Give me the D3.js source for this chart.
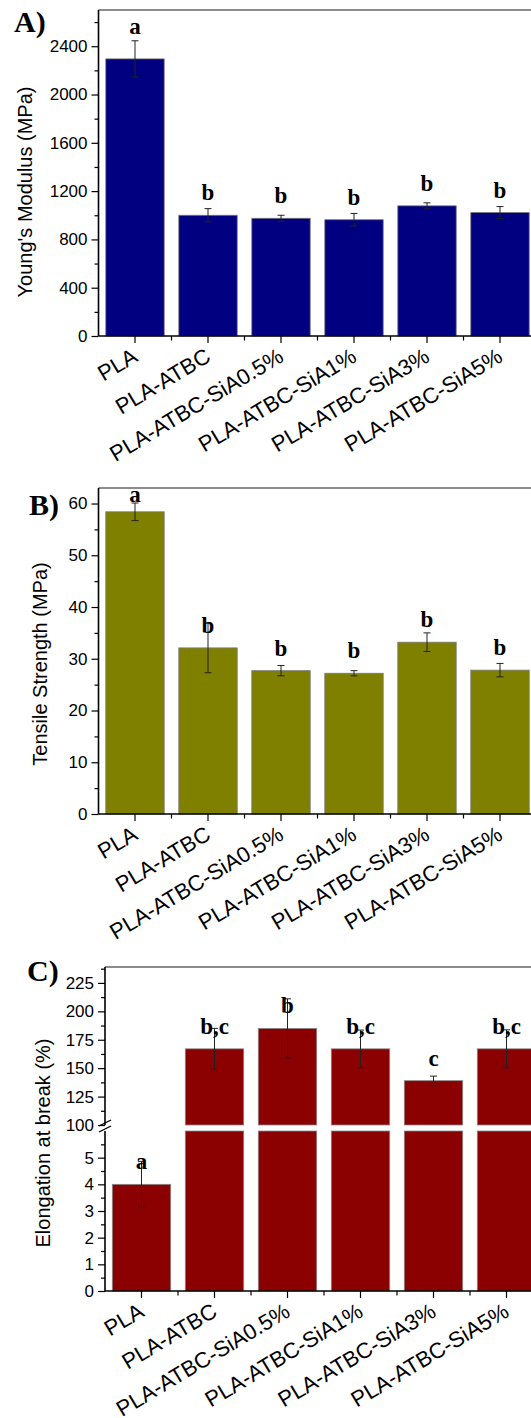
<!DOCTYPE html>
<html>
<head>
<meta charset="utf-8">
<script src="https://cdn.jsdelivr.net/npm/d3@7"></script>
<style>
  body { margin: 0; background: #fff; }
  svg { display: block; }
</style>
</head>
<body>
<script>
// data
var categories = ['PLA', 'PLA-ATBC', 'PLA-ATBC-SiA0.5%', 'PLA-ATBC-SiA1%', 'PLA-ATBC-SiA3%', 'PLA-ATBC-SiA5%'];

var modulus = [2295, 1000, 975, 963, 1078, 1022];
var modulusErr = [150, 55, 25, 52, 25, 50];
var modulusLetters = ['a', 'b', 'b', 'b', 'b', 'b'];
var modulusTicks = [0, 400, 800, 1200, 1600, 2000, 2400];

var strength = [58.4, 32.1, 27.7, 27.2, 33.2, 27.8];
var strengthErr = [1.7, 4.8, 1.0, 0.5, 1.8, 1.3];
var strengthLetters = ['a', 'b', 'b', 'b', 'b', 'b'];
var strengthTicks = [0, 10, 20, 30, 40, 50, 60];

var elongation = [4.0, 167, 185, 167, 139, 167];
var elongationErr = [0.86, 18, 26, 16.5, 4, 16.7];
var elongationLetters = ['a', 'b,c', 'b', 'b,c', 'c', 'b,c'];
var elongLowTicks = [0, 1, 2, 3, 4, 5];
var elongHighTicks = [100, 125, 150, 175, 200, 225];

var W = 531, H = 1418;
var sans = "'Liberation Sans', Arial, sans-serif";
var serif = "'Liberation Serif', 'Times New Roman', serif";

var svg = d3.select('body').append('svg')
    .attr('width', W)
    .attr('height', H);

// y axis with majors + minors (minor ticks halfway between majors)
function drawYAxis(g, y, ticks, minorStep, left, fmt) {
  var dom = y.domain();
  var minors = d3.range(dom[0] + minorStep, dom[1] + 1e-9, minorStep * 2);
  g.append('g')
      .attr('transform', 'translate(' + left + ',0)')
      .call(d3.axisLeft(y).tickValues(minors).tickSize(4).tickFormat(''))
      .call(function (s) { s.select('.domain').remove(); })
      .selectAll('line').attr('stroke', '#000').attr('stroke-width', 1.2);
  var ax = g.append('g')
      .attr('transform', 'translate(' + left + ',0)')
      .call(d3.axisLeft(y).tickValues(ticks).tickSize(7).tickPadding(4).tickFormat(fmt || d3.format('d')));
  ax.select('.domain').remove();
  ax.selectAll('line').attr('stroke', '#000').attr('stroke-width', 1.2);
  ax.selectAll('text')
      .attr('font-family', sans)
      .attr('font-size', '17px')
      .attr('fill', '#000');
  g.append('line')
      .attr('x1', left).attr('x2', left)
      .attr('y1', y.range()[0]).attr('y2', y.range()[1])
      .attr('stroke', '#000').attr('stroke-width', 1.6);
}

function drawXAxis(g, x, base) {
  var ax = g.append('g')
      .attr('transform', 'translate(0,' + base + ')')
      .call(d3.axisBottom(x).tickSize(7));
  ax.select('.domain').remove();
  ax.selectAll('line').attr('stroke', '#000').attr('stroke-width', 1.2);
  ax.selectAll('text')
      .attr('x', 0).attr('y', 0)
      .attr('dy', '0.71em')
      .attr('transform', 'translate(-4,11) rotate(-31)')
      .style('text-anchor', 'end')
      .attr('font-family', sans)
      .attr('font-size', '22px')
      .attr('fill', '#000');
  // minor ticks on the band edges
  var r = x.range();
  g.selectAll(null)
      .data(d3.range(1, categories.length + 1))
      .enter().append('line')
      .attr('x1', function (i) { return r[0] + x.step() * i; })
      .attr('x2', function (i) { return r[0] + x.step() * i; })
      .attr('y1', base).attr('y2', base + 4.5)
      .attr('stroke', '#000').attr('stroke-width', 1.2);
  g.append('line')
      .attr('x1', r[0]).attr('x2', W)
      .attr('y1', base).attr('y2', base)
      .attr('stroke', '#000').attr('stroke-width', 1.6);
}

function drawErrors(g, x, y, vals, errs, idx) {
  idx.forEach(function (i) {
    var cx = x(categories[i]) + x.bandwidth() / 2;
    var y1 = y(vals[i] + errs[i]), y2 = y(vals[i] - errs[i]);
    g.append('line').attr('x1', cx).attr('x2', cx).attr('y1', y1).attr('y2', y2)
        .attr('stroke', '#222').attr('stroke-width', 1);
    [y1, y2].forEach(function (yy) {
      g.append('line').attr('x1', cx - 3.5).attr('x2', cx + 3.5).attr('y1', yy).attr('y2', yy)
          .attr('stroke', '#222').attr('stroke-width', 1);
    });
  });
}

function drawLetters(g, x, y, vals, errs, letters, idx, opt) {
  idx.forEach(function (i) {
    var top = y(vals[i]);
    var by = top - 15;
    if (opt.avoidErr) by = Math.min(by, y(vals[i] + errs[i]) - 7);
    by = Math.max(by, opt.frameTop + 14);
    g.append('text')
        .attr('x', x(categories[i]) + x.bandwidth() / 2)
        .attr('y', by)
        .attr('text-anchor', 'middle')
        .attr('font-family', serif)
        .attr('font-weight', 'bold')
        .attr('font-size', '23px')
        .text(letters[i]);
  });
}

function panelText(g, p) {
  g.append('text')
      .attr('x', p.lx).attr('y', p.ly)
      .attr('font-family', serif).attr('font-weight', 'bold')
      .attr('font-size', '30px')
      .text(p.label);
  g.append('text')
      .attr('transform', 'translate(' + p.tx + ',' + p.ty + ') rotate(-90)')
      .attr('text-anchor', 'middle')
      .attr('font-family', sans).attr('font-size', '20px')
      .text(p.title);
}

// simple bar panel (A and B)
function barPanel(p) {
  var g = svg.append('g');
  var x = d3.scaleBand().domain(categories)
      .range([p.left, p.left + 73 * categories.length])
      .paddingInner(0.2).paddingOuter(0.1);
  var y = d3.scaleLinear().domain(p.domain).range([p.bottom, p.top]);

  g.append('line')
      .attr('x1', p.left).attr('x2', W).attr('y1', p.top).attr('y2', p.top)
      .attr('stroke', '#666').attr('stroke-width', 1.6);

  g.selectAll('rect.bar')
      .data(p.values)
      .enter().append('rect')
      .attr('class', 'bar')
      .attr('x', function (d, i) { return x(categories[i]); })
      .attr('width', x.bandwidth())
      .attr('y', function (d) { return y(d); })
      .attr('height', function (d) { return y(0) - y(d); })
      .attr('fill', p.color)
      .attr('stroke', '#777').attr('stroke-width', 0.8);

  var idx = d3.range(categories.length);
  drawErrors(g, x, y, p.values, p.errors, idx);
  drawLetters(g, x, y, p.values, p.errors, p.letters, idx, { avoidErr: p.avoidErr, frameTop: p.top });
  drawYAxis(g, y, p.ticks, p.minor, p.left);
  drawXAxis(g, x, p.bottom);
  panelText(g, p);
}

barPanel({
  values: modulus, errors: modulusErr, letters: modulusLetters, ticks: modulusTicks,
  minor: 200, domain: [0, 2700], top: 10, bottom: 336, left: 98.5,
  color: '#000080', avoidErr: true,
  label: 'A)', lx: 14, ly: 32, title: "Young's Modulus (MPa)", tx: 32, ty: 192
});

barPanel({
  values: strength, errors: strengthErr, letters: strengthLetters, ticks: strengthTicks,
  minor: 5, domain: [0, 63], top: 488, bottom: 814, left: 98.5,
  color: '#808000', avoidErr: false,
  label: 'B)', lx: 29, ly: 515, title: 'Tensile Strength (MPa)', tx: 47, ty: 664
});

// panel C, broken y axis
(function () {
  var g = svg.append('g');
  var left = 105, top = 967, bottom = 1291, brkHi = 1125, brkLo = 1131;
  var x = d3.scaleBand().domain(categories)
      .range([left, left + 73 * categories.length])
      .paddingInner(0.2).paddingOuter(0.1);
  var yLo = d3.scaleLinear().domain([0, 6]).range([bottom, brkLo]);
  var yHi = d3.scaleLinear().domain([100, 239]).range([brkHi, top]);

  g.append('line')
      .attr('x1', left).attr('x2', W).attr('y1', top).attr('y2', top)
      .attr('stroke', '#666').attr('stroke-width', 1.6);

  // lower part of every bar
  g.selectAll('rect.lo')
      .data(elongation)
      .enter().append('rect')
      .attr('class', 'lo')
      .attr('x', function (d, i) { return x(categories[i]); })
      .attr('width', x.bandwidth())
      .attr('y', function (d) { return yLo(Math.min(d, 6)); })
      .attr('height', function (d) { return yLo(0) - yLo(Math.min(d, 6)); })
      .attr('fill', '#8b0000')
      .attr('stroke', '#888').attr('stroke-width', 0.8);

  // upper part for the bars above the break
  var hiIdx = d3.range(categories.length).filter(function (i) { return elongation[i] > 100; });
  g.selectAll('rect.hi')
      .data(hiIdx)
      .enter().append('rect')
      .attr('class', 'hi')
      .attr('x', function (i) { return x(categories[i]); })
      .attr('width', x.bandwidth())
      .attr('y', function (i) { return yHi(elongation[i]); })
      .attr('height', function (i) { return yHi(100) - yHi(elongation[i]); })
      .attr('fill', '#8b0000')
      .attr('stroke', '#888').attr('stroke-width', 0.8);

  var loIdx = d3.range(categories.length).filter(function (i) { return elongation[i] <= 6; });
  drawErrors(g, x, yLo, elongation, elongationErr, loIdx);
  drawErrors(g, x, yHi, elongation, elongationErr, hiIdx);
  drawLetters(g, x, yLo, elongation, elongationErr, elongationLetters, loIdx, { avoidErr: false, frameTop: top });
  drawLetters(g, x, yHi, elongation, elongationErr, elongationLetters, hiIdx, { avoidErr: false, frameTop: top });

  drawYAxis(g, yLo, elongLowTicks, 0.5, left);
  drawYAxis(g, yHi, elongHighTicks, 12.5, left);

  // break marks on the axis
  [0, 6].forEach(function (o) {
    g.append('line')
        .attr('x1', left - 6).attr('y1', brkHi + 1 + o)
        .attr('x2', left + 6).attr('y2', brkHi - 5 + o)
        .attr('stroke', '#000').attr('stroke-width', 1.3);
  });

  drawXAxis(g, x, bottom);
  panelText(g, {
    label: 'C)', lx: 27, ly: 981, title: 'Elongation at break (%)', tx: 50, ty: 1143
  });
})();
</script>
</body>
</html>
